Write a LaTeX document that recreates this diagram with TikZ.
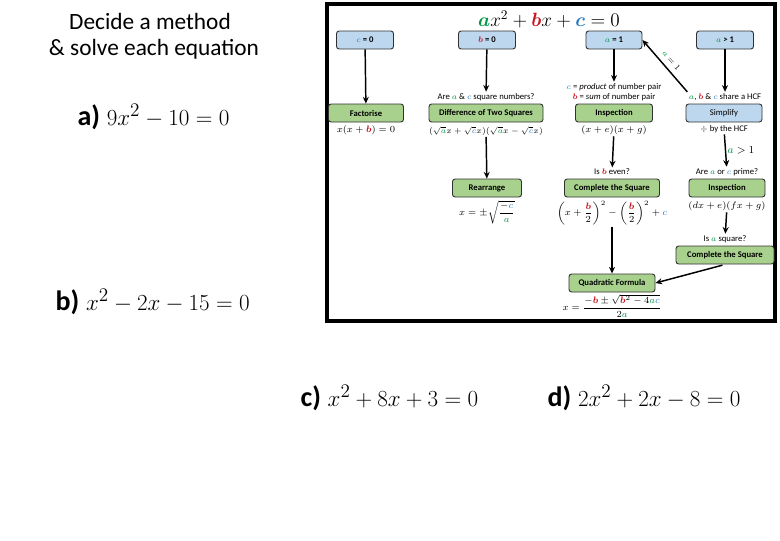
\documentclass[tikz,border=0pt]{standalone}
\usepackage{amsmath,amssymb}
\usepackage{fontspec}
\setmainfont{Carlito}
\usetikzlibrary{arrows.meta}
\definecolor{acol}{RGB}{0,150,70}
\definecolor{bcol}{RGB}{200,20,30}
\definecolor{ccol}{RGB}{40,120,190}
\definecolor{boxblue}{RGB}{189,215,238}
\definecolor{boxgreen}{RGB}{169,209,142}
\definecolor{boxline}{RGB}{50,50,50}
\newcommand{\avar}{{\color{acol}a}}
\newcommand{\bvar}{{\color{bcol}\boldsymbol{b}}}
\newcommand{\cvar}{{\color{ccol}c}}
\tikzset{
    every node/.style={inner sep=1pt},
    note/.style={font=\fontsize{6.5}{7.5}\selectfont},
    formula/.style={font=\fontsize{7.2}{8.5}\selectfont},
    bluebox/.style={draw=boxline, fill=boxblue, rounded corners=2pt, line width=0.7pt, minimum height=13.5pt, note},
    greenbox/.style={draw=boxline, fill=boxgreen, rounded corners=2pt, line width=0.7pt, minimum height=13.5pt, font=\bfseries\fontsize{6.5}{7.5}\selectfont},
    wd/.style={minimum width=#1*0.75pt},
    flow/.style={-{Stealth[length=5pt,width=4.5pt]}, line width=1.1pt},
    title/.style={font=\fontsize{17.5}{21}\selectfont},
    eqn/.style={anchor=west, font=\fontsize{19}{23}\selectfont}
}

\begin{document}
\begin{tikzpicture}[x=0.75pt, y=-0.75pt]
    \useasboundingbox (0,0) rectangle (780,540);

    \node[title] (t1) at (150,21) {Decide a method};
    \node[title] (t2) at (154,49) {\& solve each equation};

    \node[eqn] (eqa) at (76,117) {{\fontsize{21}{24}\selectfont\textbf{a)}}\hspace{5pt}$9x^2-10=0$};
    \node[eqn] (eqb) at (54,302) {{\fontsize{21}{24}\selectfont\textbf{b)}}\hspace{5pt}$x^2-2x-15=0$};
    \node[eqn] (eqc) at (299,398) {{\fontsize{21}{24}\selectfont\textbf{c)}}\hspace{5pt}$x^2+8x+3=0$};
    \node[eqn] (eqd) at (546,398) {{\fontsize{21}{24}\selectfont\textbf{d)}}\hspace{5pt}$2x^2+2x-8=0$};

    % flowchart
    \draw[line width=2.6pt] (327,4) rectangle (775,321);
    \node[font=\fontsize{14}{17}\selectfont] (head) at (549,19) {$\boldsymbol{\avar}x^2+\boldsymbol{\bvar}x+\boldsymbol{\cvar}=0$};

    \node[bluebox, wd=57] (c0) at (365,40) {$\cvar$ \textbf{= 0}};
    \node[bluebox, wd=57] (b0) at (487,40) {$\bvar$ \textbf{= 0}};
    \node[bluebox, wd=56] (a1) at (614,40) {$\avar$ \textbf{= 1}};
    \node[bluebox, wd=57] (ag1) at (725,40) {$\avar$ \textbf{> 1}};

    \node[note] (q1) at (486,97) {Are $\avar$ \& $\cvar$ square numbers?};
    \node[note] (qpa) at (614,87) {$\cvar$ = \emph{product} of number pair};
    \node[note] (qpb) at (614,97) {$\bvar$ = \emph{sum} of number pair};
    \node[note] (q3) at (725,97) {$\avar$, $\bvar$ \& $\cvar$ share a HCF};

    \node[greenbox, wd=75] (fact) at (366,113) {Factorise};
    \node[greenbox, wd=114] (dts) at (486,113) {Difference of Two Squares};
    \node[greenbox, wd=77] (ins) at (614,113) {Inspection};
    \node[bluebox, wd=76] (simp) at (724,113) {Simplify};

    \node[formula] (factf) at (366,130) {$x(x+\bvar)=0$};
    \node[note] (dtsf) at (486,131) {$(\sqrt{\avar}x+\sqrt{\cvar}x)(\sqrt{\avar}x-\sqrt{\cvar}x)$};
    \node[formula] (insf) at (614,130) {$(x+e)(x+g)$};
    \node[note] (simpf) at (724,129) {$\div$ by the HCF};

    \node[note] (qeven) at (612,172) {Is $\bvar$ even?};
    \node[note] (qprime) at (727,172) {Are $\avar$ or $\cvar$ prime?};

    \node[greenbox, wd=69] (rearr) at (487,188) {Rearrange};
    \node[greenbox, wd=95] (cs) at (612,188) {Complete the Square};
    \node[greenbox, wd=76] (ins2) at (727,188) {Inspection};

    \node[formula] (rearrf) at (487,212) {$x=\pm\sqrt{\dfrac{-\cvar}{\avar}}$};
    \node[formula] (csf) at (612,213) {$\left(x+\dfrac{\bvar}{2}\right)^{2}-\left(\dfrac{\bvar}{2}\right)^{2}+\cvar$};
    \node[formula] (ins2f) at (727,206) {$(dx+e)(fx+g)$};

    \node[note] (qsq) at (725,239) {Is $\avar$ square?};
    \node[greenbox, wd=98] (cs2) at (725,255) {Complete the Square};
    \node[greenbox, wd=86] (qf) at (612,283) {Quadratic Formula};
    \node[formula] (qff) at (612,306) {$x=\dfrac{-\bvar\pm\sqrt{\bvar^2-4\avar\cvar}}{2\avar}$};

    \draw (c0) edge[flow] (fact);
    \draw (b0) edge[flow] (q1);
    \draw (a1) edge[flow] (qpa);
    \draw (ag1) edge[flow] (q3);
    \draw (q3.north west) edge[flow] node[sloped, above=3pt, note] {$\avar=1$} (a1.east);

    \draw (dtsf) edge[flow] (rearr);
    \draw (insf) edge[flow] (qeven);
    \draw (simpf) edge[flow] node[right, font=\fontsize{8}{9}\selectfont] {$\avar>1$} (qprime);
    \draw (ins2f) edge[flow] (qsq);
    \draw (csf) edge[flow] (qf);
    \draw (cs2.south) edge[flow, shorten <=2pt] (qf.east);
\end{tikzpicture}
\end{document}
